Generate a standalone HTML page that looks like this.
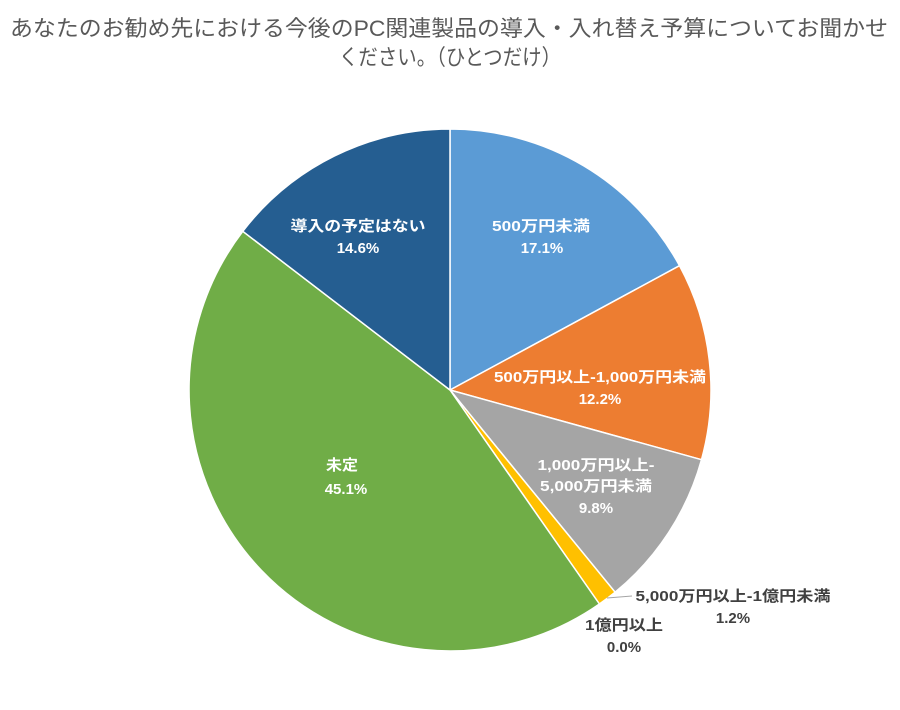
<!DOCTYPE html>
<html><head><meta charset="utf-8"><style>
html,body{margin:0;padding:0;background:#fff;}
body{width:900px;height:705px;overflow:hidden;font-family:"Liberation Sans","Noto Sans CJK JP",sans-serif;}
</style></head><body>
<svg width="900" height="705" xmlns="http://www.w3.org/2000/svg" font-family="Liberation Sans, Noto Sans CJK JP, sans-serif">
<text x="449" y="36" text-anchor="middle" font-size="22" fill="#595959" textLength="878" lengthAdjust="spacingAndGlyphs">あなたのお勧め先における今後のPC関連製品の導入・入れ替え予算についてお聞かせ</text>
<text x="450" y="65" text-anchor="middle" font-size="22" fill="#595959" textLength="222" lengthAdjust="spacingAndGlyphs">ください。（ひとつだけ）</text>
<g stroke="#fff" stroke-width="1.5" stroke-linejoin="round">
<path d="M450,390 L450,129 A261,261 0 0 1 679.5,265.7 Z" fill="#5b9bd5"/>
<path d="M450,390 L679.5,265.7 A261,261 0 0 1 701.5,459.7 Z" fill="#ed7d31"/>
<path d="M450,390 L701.5,459.7 A261,261 0 0 1 615.1,592.2 Z" fill="#a5a5a5"/>
<path d="M450,390 L615.1,592.2 A261,261 0 0 1 599.4,604.0 Z" fill="#ffc000"/>
<path d="M450,390 L599.4,604.0 A261,261 0 0 1 242.8,231.3 Z" fill="#70ad47"/>
<path d="M450,390 L242.8,231.3 A261,261 0 0 1 450,129 Z" fill="#255e91"/>
</g>
<line x1="607" y1="598" x2="632" y2="596" stroke="#a5a5a5" stroke-width="1"/>
<g font-size="15" font-weight="bold" text-anchor="middle" fill="#fff" lengthAdjust="spacingAndGlyphs">
<text x="541" y="231" textLength="98" lengthAdjust="spacingAndGlyphs">500万円未満</text><text x="542" y="253">17.1%</text>
<text x="600" y="382" textLength="212" lengthAdjust="spacingAndGlyphs">500万円以上-1,000万円未満</text><text x="600" y="404">12.2%</text>
<text x="596" y="470" textLength="117" lengthAdjust="spacingAndGlyphs">1,000万円以上-</text><text x="596" y="491" textLength="112" lengthAdjust="spacingAndGlyphs">5,000万円未満</text><text x="596" y="513">9.8%</text>
<text x="342" y="470" textLength="32" lengthAdjust="spacingAndGlyphs">未定</text><text x="346" y="494">45.1%</text>
<text x="358" y="231" textLength="135" lengthAdjust="spacingAndGlyphs">導入の予定はない</text><text x="358" y="253">14.6%</text>
</g>
<g font-size="15" font-weight="bold" text-anchor="middle" fill="#404040">
<text x="733" y="601" textLength="195" lengthAdjust="spacingAndGlyphs">5,000万円以上-1億円未満</text><text x="733" y="623">1.2%</text>
<text x="624" y="630" textLength="78" lengthAdjust="spacingAndGlyphs">1億円以上</text><text x="624" y="652">0.0%</text>
</g>
</svg>
</body></html>
